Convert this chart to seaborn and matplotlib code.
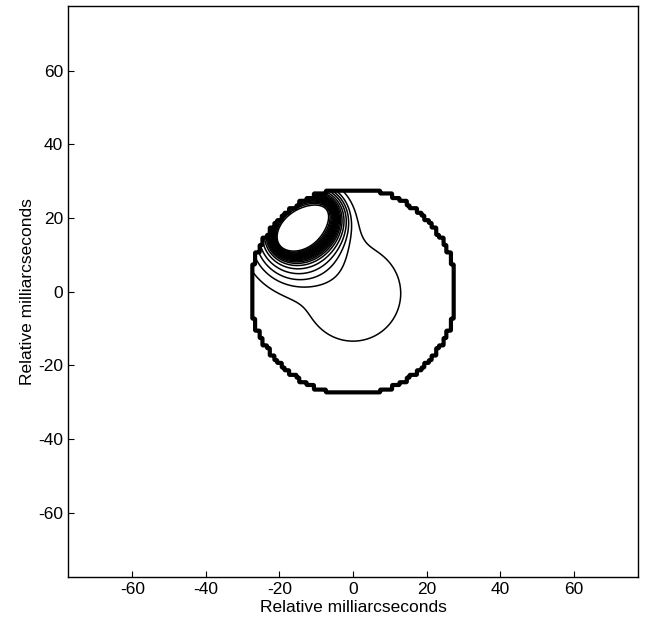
import numpy as np
import matplotlib
matplotlib.use("Agg")
import matplotlib.pyplot as plt
import seaborn as sns

sns.set_theme(style="ticks")
plt.rcParams["font.family"] = ["Liberation Sans", "DejaVu Sans"]
plt.rcParams["axes.unicode_minus"] = False

# image model (milliarcseconds)
disk_radius = 28.0
pixel_size = 1.0

# compact flat-topped component (confocal ellipses)
spot_center = [-13.4, 17.6]
spot_focus = 6.4
spot_angle = 37.0            # deg
spot_edge_radius = 3.0
spot_edge_width = 0.85
spot_amp = 1.0

# faint skirt around the spot
skirt_center = [-15.0, 14.5]
skirt_sigma = 5.6
skirt_amp = 0.16

# broad diffuse component
halo_center = [0.0, -0.5]
halo_sigma = 9.8
halo_amp = 0.0096

levels = [0.004, 0.013, 0.025, 0.045, 0.08, 0.13, 0.185, 0.24, 0.295, 0.35,
          0.405, 0.46, 0.515, 0.57, 0.625, 0.68, 0.735, 0.79, 0.845, 0.9]
ticks = [-60, -40, -20, 0, 20, 40, 60]
lim = 77.5

# fine grid for the field, pixelated disk mask
g = np.arange(-32, 32.01, 0.25)
X, Y = np.meshgrid(g, g)
inside = np.hypot(np.round(X / pixel_size) * pixel_size,
                  np.round(Y / pixel_size) * pixel_size) < disk_radius

th = np.deg2rad(spot_angle)
u = (X - spot_center[0]) * np.cos(th) + (Y - spot_center[1]) * np.sin(th)
v = -(X - spot_center[0]) * np.sin(th) + (Y - spot_center[1]) * np.cos(th)
d = (np.hypot(u - spot_focus, v) + np.hypot(u + spot_focus, v)) / 2 - spot_focus
field = spot_amp / (1 + np.exp((d - spot_edge_radius) / spot_edge_width))
field += skirt_amp * np.exp(-((X - skirt_center[0]) ** 2 + (Y - skirt_center[1]) ** 2) / (2 * skirt_sigma ** 2))
field += halo_amp * np.exp(-((X - halo_center[0]) ** 2 + (Y - halo_center[1]) ** 2) / (2 * halo_sigma ** 2))
field = np.where(inside, field, 0.0)

fig = plt.figure(figsize=(6.5, 6.26), dpi=100)
ax = fig.add_axes([0.1046, 0.0783, 0.877, 0.912])

ax.contour(X, Y, field, levels=levels, colors="black", linewidths=1.1)
ax.contour(X, Y, inside.astype(float), levels=[0.5], colors="black", linewidths=3.0)

ax.set_xlim(-lim, lim)
ax.set_ylim(-lim, lim)
ax.set_xticks(ticks)
ax.set_yticks(ticks)
ax.tick_params(direction="in", length=4, width=0.8, labelsize=12.5,
               colors="black", top=False, right=False)
for s in ax.spines.values():
    s.set_color("black")
    s.set_linewidth(1.0)
ax.set_xlabel("Relative milliarcseconds", fontsize=12.5, labelpad=2, color="black")
ax.set_ylabel("Relative milliarcseconds", fontsize=12.5, labelpad=2, color="black")

fig.savefig("out.png", dpi=100, facecolor="white")
